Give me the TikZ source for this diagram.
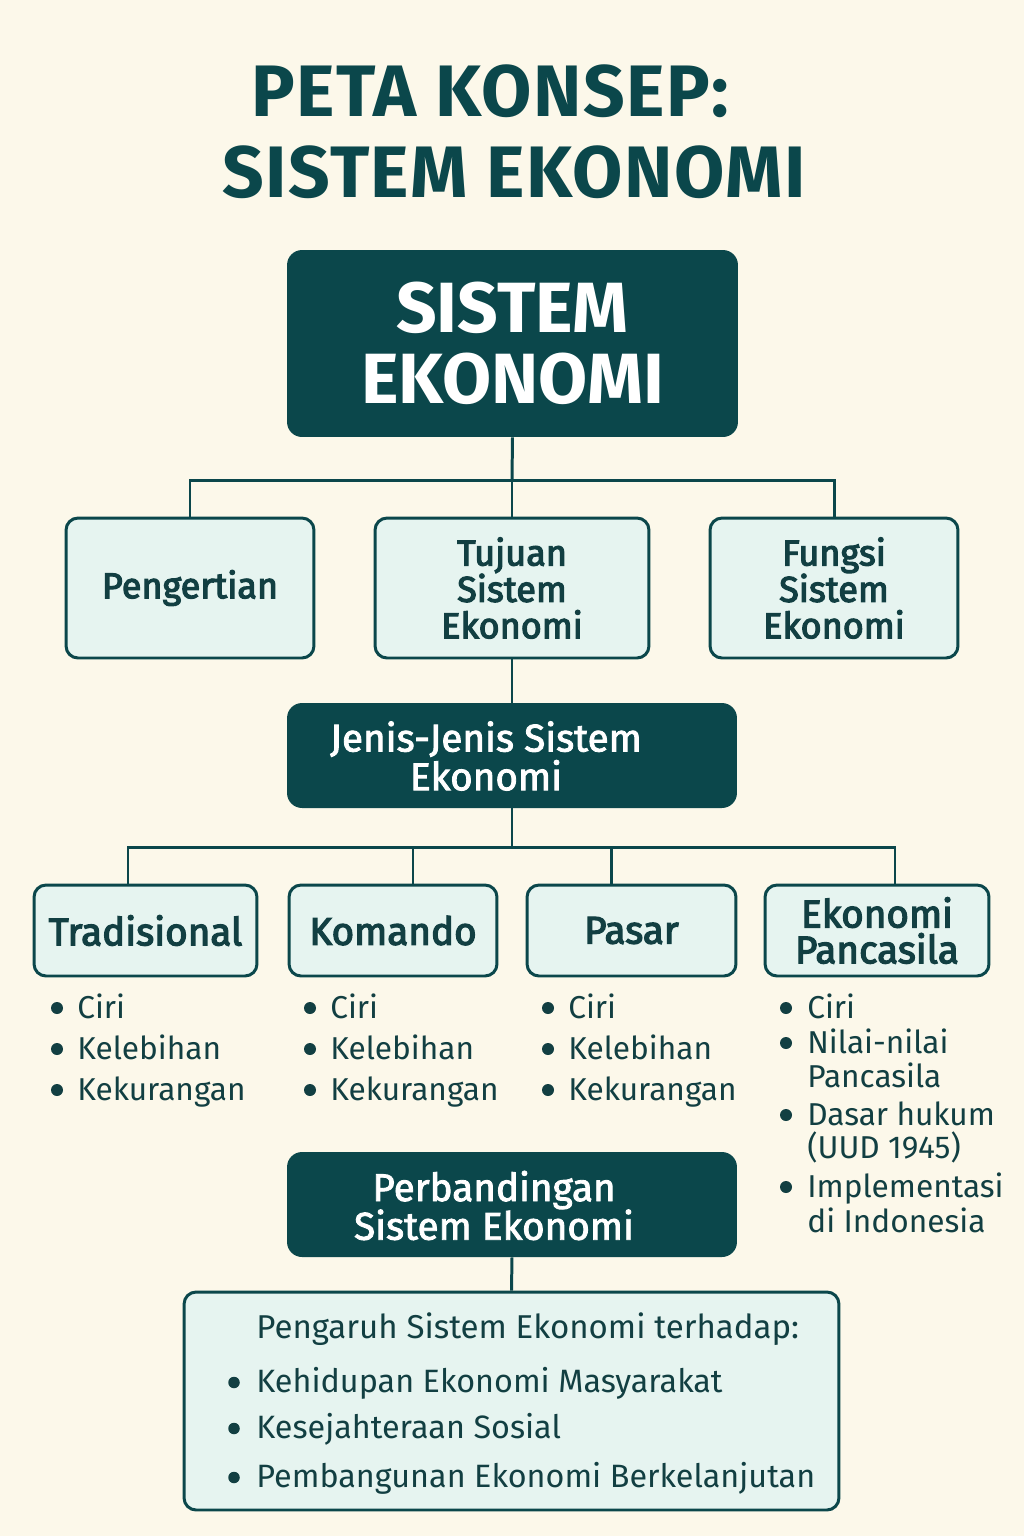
\documentclass[tikz,border=0pt]{standalone}
\usepackage{fontspec}
\setmainfont{Fira Sans}
\newfontfamily\semibf[FakeBold=3.2]{Fira Sans}
\newfontfamily\mediumbf[FakeBold=2.2]{Fira Sans}
\usetikzlibrary{positioning}
\definecolor{tealdark}{HTML}{0B474B}
\definecolor{tealink}{HTML}{123F42}
\definecolor{boxfill}{HTML}{E6F4F0}
\definecolor{cream}{HTML}{FCF8EA}

\begin{document}
\begin{tikzpicture}[
  x=0.02cm, y=-0.02cm,
  title/.style={text=tealdark, inner sep=0pt, font=\fontsize{41.5}{46}\selectfont\bfseries\addfontfeature{LetterSpace=2}},
  darkbox/.style={fill=tealdark, rounded corners=0.3cm, text=white, align=center, inner sep=0pt, minimum width=9cm},
  lightbox/.style={draw=tealdark, line width=1.7pt, fill=boxfill, rounded corners=0.24cm, text=tealink, align=center, inner sep=0pt},
  rowone/.style={lightbox, minimum width=4.96cm, minimum height=2.8cm, font=\fontsize{20.5}{20.7}\semibf},
  rowtwo/.style={lightbox, minimum height=1.82cm, font=\fontsize{22}{20.4}\semibf},
  darklabel/.style={text=white, align=center, inner sep=0pt, font=\fontsize{22}{22}\mediumbf},
  item/.style={anchor=base west, inner sep=0pt, text=tealink, font=\fontsize{18}{20}\selectfont},
  dot/.style={fill=tealink},
  conn/.style={draw=tealdark, line width=1.7pt}
]
\fill[cream] (0,0) rectangle (1024,1536);
\useasboundingbox (0,0) rectangle (1024,1536);

% title
\node[title] (title1) at (490,91) {PETA KONSEP:};
\node[title] (title2) at (514,172) {SISTEM EKONOMI};

% main concept
\node[darkbox, minimum width=9.02cm, minimum height=3.74cm, font=\fontsize{40.5}{40.2}\selectfont\bfseries] (sistem) at (512.5,343.5) {SISTEM\\EKONOMI};

\node[rowone] (pengertian) at (190,588) {Pengertian};
\node[rowone, minimum width=5.48cm] (tujuan) at (512,588) {Tujuan\\Sistem\\Ekonomi};
\node[rowone] (fungsi) at (834,588) {Fungsi\\Sistem\\Ekonomi};

\node[darkbox, minimum height=2.1cm] (jenis) at (512,755.5) {};
\node[darklabel] (jenis-label) at (486,756) {Jenis-Jenis Sistem\\Ekonomi};

\node[rowtwo, minimum width=4.46cm] (tradisional) at (145.5,930.5) {Tradisional};
\node[rowtwo, minimum width=4.16cm] (komando) at (393,930.5) {Komando};
\node[rowtwo, minimum width=4.18cm] (pasar) at (631.5,930.5) {Pasar};
\node[rowtwo, minimum width=4.48cm] (pancasila) at (877,930.5) {Ekonomi\\Pancasila};

% sub points
\foreach \x/\nm in {77/trad,330/kom,568/pas}
  \foreach \t [count=\i] in {Ciri,Kelebihan,Kekurangan}{
    \node[item] (\nm-\i) at (\x,{977+41*\i}) {\t};
    \fill[dot] ([xshift=-0.4cm, yshift=0.2cm]\nm-\i.base west) circle (0.12cm);
  }

\node[item] (pan-1) at (807,1018) {Ciri};
\node[item] (pan-2) at (807,1053) {Nilai-nilai};
\node[item] (pan-3) at (807,1087) {Pancasila};
\node[item] (pan-4) at (807,1125) {Dasar hukum};
\node[item] (pan-5) at (807,1158) {(UUD 1945)};
\node[item] (pan-6) at (807,1197) {Implementasi};
\node[item] (pan-7) at (807,1232) {di Indonesia};
\foreach \n in {pan-1,pan-2,pan-4,pan-6}
  \fill[dot] ([xshift=-0.42cm, yshift=0.2cm]\n.base west) circle (0.12cm);

\node[darkbox, minimum height=2.1cm] (banding) at (512,1204.5) {};
\node[darklabel] (banding-label) at (494,1205.5) {Perbandingan\\Sistem Ekonomi};

\node[lightbox, minimum width=13.1cm, minimum height=4.36cm] (pengaruh) at (511.5,1401) {};
\node[item, font=\fontsize{18.8}{20}\selectfont] (pengaruh-0) at (256,1338) {Pengaruh Sistem Ekonomi terhadap:};
\node[item, font=\fontsize{18.4}{20}\selectfont] (pengaruh-1) at (256,1392) {Kehidupan Ekonomi Masyarakat};
\node[item, font=\fontsize{18.4}{20}\selectfont] (pengaruh-2) at (256,1438) {Kesejahteraan Sosial};
\node[item, font=\fontsize{18.4}{20}\selectfont] (pengaruh-3) at (256,1487) {Pembangunan Ekonomi Berkelanjutan};
\foreach \n in {pengaruh-1,pengaruh-2,pengaruh-3}
  \fill[dot] ([xshift=-0.44cm, yshift=0.19cm]\n.base west) circle (0.115cm);

% connectors
\coordinate (bus1) at (512,480);
\draw[conn] (sistem.south) -- (bus1);
\draw[conn] (pengertian.north) |- (bus1);
\draw[conn] (fungsi.north) |- (bus1);
\draw[conn] (bus1) -- (tujuan.north);
\draw[conn] (tujuan.south) -- (jenis.north);
\coordinate (bus2) at (512,847);
\draw[conn] (jenis.south) -- (bus2);
\draw[conn] ([xshift=-0.35cm]tradisional.north) |- (bus2);
\draw[conn] ([xshift=0.4cm]komando.north) |- (bus2);
\draw[conn] ([xshift=-0.41cm]pasar.north) |- (bus2);
\draw[conn] ([xshift=0.36cm]pancasila.north) |- (bus2);
\draw[conn] (banding.south) -- (pengaruh.north);
\end{tikzpicture}
\end{document}
